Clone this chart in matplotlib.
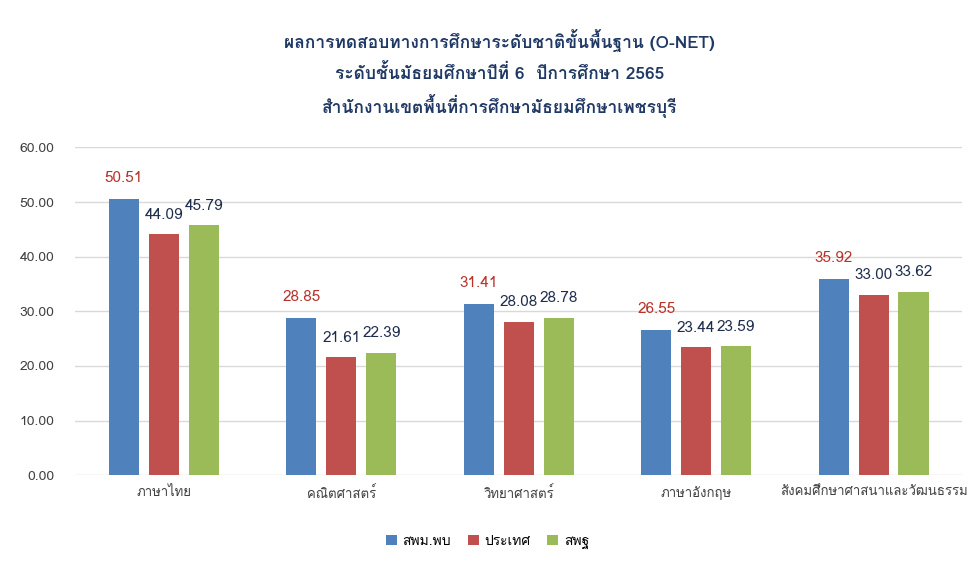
import numpy as np
import matplotlib
matplotlib.use("Agg")
import matplotlib.pyplot as plt
from matplotlib import font_manager
from matplotlib.ft2font import FT2Font

# find an installed font that has Thai glyphs
thai_font = None
for f in font_manager.fontManager.ttflist:
    try:
        if 0x0E01 in FT2Font(f.fname).get_charmap():
            thai_font = f.name
            break
    except Exception:
        pass
fams = [thai_font, "DejaVu Sans"] if thai_font else ["DejaVu Sans"]
plt.rcParams["font.family"] = fams

categories = ["ภาษาไทย", "คณิตศาสตร์", "วิทยาศาสตร์", "ภาษาอังกฤษ", "สังคมศึกษาศาสนาและวัฒนธรรม"]
series = ["สพม.พบ", "ประเทศ", "สพฐ"]
spm = [50.51, 28.85, 31.41, 26.55, 35.92]
country = [44.09, 21.61, 28.08, 23.44, 33.00]
obec = [45.79, 22.39, 28.78, 23.59, 33.62]
colors = ["#4f81bd", "#c0504d", "#9bbb59"]
label_colors = ["#b8322a", "#1f2d4d", "#1f2d4d"]

fig = plt.figure(figsize=(9.75, 5.67), dpi=100)
ax = fig.add_axes([0.077, 0.162, 0.91, 0.578])

x = np.arange(len(categories))
w = 0.17
step = 0.225
for i, vals in enumerate([spm, country, obec]):
    bars = ax.bar(x + (i - 1) * step, vals, w, color=colors[i], label=series[i], zorder=3)
    for b, v in zip(bars, vals):
        ax.annotate("%.2f" % v, (b.get_x() + b.get_width() / 2, v),
                    xytext=(0, 10 if i == 0 else 9), textcoords="offset points",
                    ha="center", va="bottom", fontsize=11, color=label_colors[i])

ax.set_ylim(0, 60)
ax.set_xlim(-0.5, 4.5)
ax.set_yticks(np.arange(0, 61, 10))
ax.set_yticklabels(["%.2f" % t for t in np.arange(0, 61, 10)], fontsize=10, color="#404040")
ax.set_xticks(x)
ax.set_xticklabels(categories, fontsize=9.5, color="#404040")
ax.tick_params(axis="x", length=0, pad=8)
ax.tick_params(axis="y", length=0, pad=15)
ax.grid(axis="y", color="#d9d9d9", linewidth=1, zorder=0)
for s in ax.spines.values():
    s.set_visible(False)

title = ("ผลการทดสอบทางการศึกษาระดับชาติขั้นพื้นฐาน (O-NET)\n"
         "ระดับชั้นมัธยมศึกษาปีที่ 6  ปีการศึกษา 2565\n"
         "สำนักงานเขตพื้นที่การศึกษามัธยมศึกษาเพชรบุรี")
fig.text(0.512, 0.948, title, ha="center", va="top", fontsize=12.5,
         fontweight="bold", color="#1f3864", linespacing=1.65)

fig.legend(loc="lower center", bbox_to_anchor=(0.5, 0.01), ncol=3, frameon=False,
           fontsize=10, handlelength=0.8, handleheight=0.8, columnspacing=1.2,
           handletextpad=0.4)

fig.savefig("out.png", dpi=100, facecolor="white")
